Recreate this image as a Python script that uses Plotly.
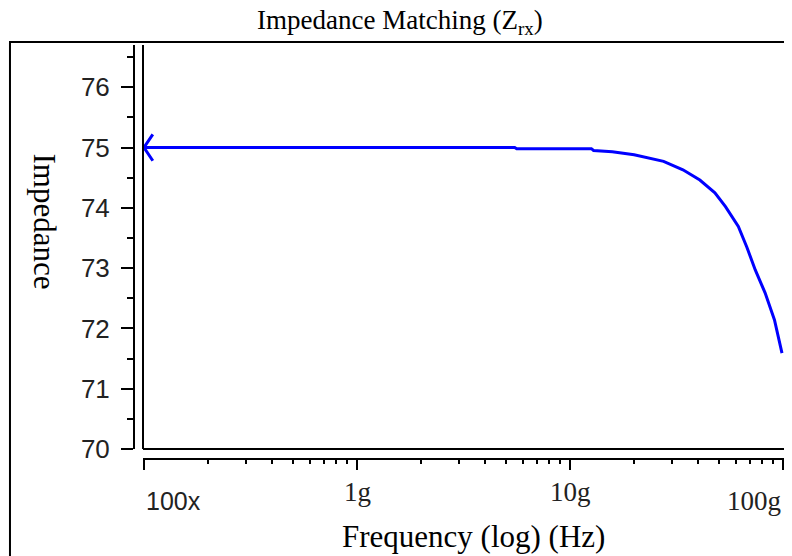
import math
import plotly.graph_objects as go

# frequency (Hz) and impedance (ohm)
freq = [1e8, 1e9, 5.50e9, 5.62e9, 1.26e10, 1.29e10, 1.58e10, 2.00e10, 2.75e10,
        3.39e10, 4.07e10, 4.79e10, 5.37e10, 6.17e10, 6.76e10, 7.41e10, 8.24e10,
        9.12e10, 9.89e10]
impedance = [75.0, 75.0, 75.0, 74.98, 74.98, 74.95, 74.93, 74.88, 74.77,
             74.63, 74.46, 74.25, 74.02, 73.69, 73.35, 72.97, 72.59,
             72.14, 71.59]

x_tickvals = [1e8, 1e9, 1e10, 1e11]
x_ticktext = ["100x", "1g", "10g", "100g"]
y_tickvals = [70, 71, 72, 73, 74, 75, 76]

serif = "Liberation Serif, Times New Roman, serif"
sans = "Liberation Sans, Arial, sans-serif"

fig = go.Figure()
fig.add_trace(go.Scatter(x=freq, y=impedance, mode="lines",
                         line=dict(color="#0000ff", width=3), showlegend=False))
# arrow at the start of the curve
fig.add_trace(go.Scatter(x=freq[:1], y=impedance[:1], mode="markers",
                         marker=dict(symbol="y-left", size=22, color="#0000ff",
                                     line=dict(color="#0000ff", width=3)),
                         cliponaxis=True, showlegend=False))

minor_x = [m * 10 ** d for d in range(8, 11) for m in range(2, 10)]

fig.update_xaxes(type="log", domain=[9 / 650, 1], range=[7.9953, 11.0047],
                 anchor="free", position=0, showline=True, linecolor="black",
                 linewidth=2, ticks="outside", ticklen=10, tickwidth=2,
                 tickcolor="black", tickvals=x_tickvals, showticklabels=False,
                 minor=dict(ticks="outside", ticklen=4, tickwidth=2,
                            tickcolor="black", tickvals=minor_x),
                 showgrid=False, zeroline=False)
fig.update_yaxes(domain=[10 / 414, 1], range=[70, 76.70], anchor="free",
                 position=0, showline=True, linecolor="black", linewidth=2,
                 ticks="outside", ticklen=12, tickwidth=2, tickcolor="black",
                 tickvals=y_tickvals, ticklabelstandoff=6,
                 tickfont=dict(family=sans, size=26, color="#222"),
                 minor=dict(ticks="outside", ticklen=6, tickwidth=2,
                            tickcolor="black", dtick=0.5),
                 showgrid=False, zeroline=False)

# plot frame (left and bottom) and outer border (open on the right)
fig.add_shape(type="line", xref="x domain", yref="y domain", x0=0, x1=0,
              y0=0, y1=1, line=dict(color="black", width=2))
fig.add_shape(type="line", xref="x domain", yref="y domain", x0=0, x1=1,
              y0=0, y1=0, line=dict(color="black", width=2))
fig.add_shape(type="path", xref="paper", yref="paper",
              path="M 1.2,1.0072 L -0.1908,1.0072 L -0.1908,-0.25",
              line=dict(color="black", width=2))

# x tick labels, staggered like the original
anchors = ["left", "center", "center", "right"]
ys = [-0.1014, -0.0809, -0.0809, -0.1014]
for v, t, a, yy in zip(x_tickvals, x_ticktext, anchors, ys):
    if t == "100x":
        f = dict(family=sans, size=25, color="#222")
    else:
        f = dict(family=serif, size=27, color="#222")
    fig.add_annotation(x=math.log10(v), y=yy, xref="x", yref="paper", text=t,
                       showarrow=False, xanchor=a, yanchor="middle", font=f)

fig.add_annotation(x=0.523, y=-0.1884, xref="paper", yref="paper",
                   text="Frequency (log) (Hz)", showarrow=False,
                   yanchor="middle",
                   font=dict(family=serif, size=31, color="black"))
fig.add_annotation(x=-0.1692, y=0.5749, xref="paper", yref="paper",
                   text="Impedance", textangle=90, showarrow=False,
                   font=dict(family=serif, size=31, color="black"))

# page body adds an 8px margin and the right edge is clipped, so keep it smaller
fig.update_layout(
    width=776, height=548,
    margin=dict(l=126, r=0, t=37, b=97),
    paper_bgcolor="white", plot_bgcolor="white",
    title=dict(text="Impedance Matching (Z<sub>rx</sub>)", x=0.505,
               y=1 - 12 / 548, xanchor="center", yanchor="middle",
               font=dict(family=serif, size=27, color="black")),
)

fig.write_html("out.html")
